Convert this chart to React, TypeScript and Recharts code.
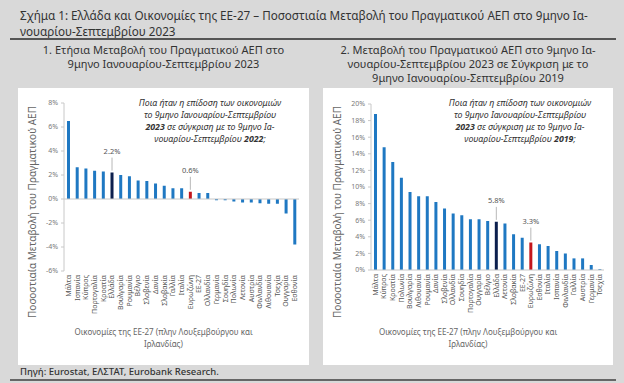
import React from 'react';
import { BarChart, Bar, XAxis, YAxis, Cell, ReferenceLine, LabelList } from 'recharts';

// Διάγραμμα 1: ετήσια μεταβολή 9μηνου 2023 vs 2022
const leftCountries = [
  'Μάλτα', 'Ισπανία', 'Κύπρος', 'Πορτογαλία', 'Κροατία', 'Ελλάδα', 'Βουλγαρία', 'Ρουμανία',
  'Βέλγιο', 'Σλοβενία', 'Δανία', 'Σλοβακία', 'Γαλλία', 'Ιταλία', 'Ευρωζώνη', 'ΕΕ-27',
  'Ολλανδία', 'Γερμανία', 'Σουηδία', 'Πολωνία', 'Λετονία', 'Αυστρία', 'Φινλανδία',
  'Λιθουανία', 'Τσεχία', 'Ουγγαρία', 'Εσθονία',
];
const leftValues = [
  6.5, 2.65, 2.55, 2.35, 2.3, 2.2, 2.0, 1.9, 1.55, 1.5, 1.3, 1.1, 0.9, 0.9, 0.6, 0.5, 0.5,
  -0.1, -0.1, -0.2, -0.3, -0.3, -0.35, -0.4, -0.4, -1.2, -3.8,
];
const leftTicks = [-6, -4, -2, 0, 2, 4, 6, 8];

// Διάγραμμα 2: μεταβολή 9μηνου 2023 vs 2019
const rightCountries = [
  'Μάλτα', 'Κύπρος', 'Κροατία', 'Πολωνία', 'Βουλγαρία', 'Λιθουανία', 'Ρουμανία', 'Δανία',
  'Σλοβενία', 'Ολλανδία', 'Σουηδία', 'Πορτογαλία', 'Ουγγαρία', 'Βέλγιο', 'Ελλάδα', 'Λετονία',
  'Σλοβακία', 'ΕΕ-27', 'Ευρωζώνη', 'Εσθονία', 'Ιταλία', 'Ισπανία', 'Φινλανδία', 'Γαλλία',
  'Αυστρία', 'Γερμανία', 'Τσεχία',
];
const rightValues = [
  18.8, 14.8, 13.0, 11.1, 9.4, 8.9, 8.9, 8.2, 7.4, 6.8, 6.6, 6.1, 6.1, 5.9, 5.8, 5.6, 4.3,
  3.9, 3.3, 3.1, 2.9, 2.3, 2.0, 1.4, 1.4, 0.6, 0.1,
];
const rightTicks = [0, 2, 4, 6, 8, 10, 12, 14, 16, 18, 20];

const highlighted = ['Ελλάδα', 'Ευρωζώνη'];

const FONT = '"Noto Sans", "DejaVu Sans", sans-serif';
const BLUE = '#1f78c2';
const NAVY = '#0c1f4d';
const RED = '#c4161c';
const AXIS_TITLE = 'Ποσοστιαία Μεταβολή του Πραγματικού ΑΕΠ';

const barColor = (name: string) =>
  name === 'Ελλάδα' ? NAVY : name === 'Ευρωζώνη' ? RED : BLUE;

const CategoryTick = (props: any) => {
  const { x, y, payload } = props;
  return (
    <text
      x={x}
      y={y}
      transform={`rotate(-90 ${x} ${y})`}
      textAnchor="end"
      dy={2.5}
      fontSize={7}
      fill="#555"
      fontFamily={FONT}
    >
      {payload.value}
    </text>
  );
};

// ετικέτα τιμής με γραμμή οδηγό, μόνο για Ελλάδα και Ευρωζώνη
const makeValueLabel = (names: string[]) => (props: any) => {
  const { x, y, width, value, index } = props;
  if (!highlighted.includes(names[index])) return null;
  const cx = x + width / 2;
  return (
    <g>
      <line x1={cx} x2={cx} y1={y - 2} y2={y - 15} stroke="#9a9a9a" strokeWidth={0.7} />
      <text x={cx} y={y - 19} textAnchor="middle" fontSize={7.5} fill="#555" fontFamily={FONT}>
        {`${value.toFixed(1)}%`}
      </text>
    </g>
  );
};

const yTick = { fontSize: 7, fill: '#7a7a7a', fontFamily: FONT };

const Panel: React.FC<{
  left: number;
  width: number;
  names: string[];
  values: number[];
  ticks: number[];
  domain: [number, number];
  yWidth: number;
  top: number;
  xHeight: number;
  rightMargin: number;
  negative: boolean;
}> = ({ left, width, names, values, ticks, domain, yWidth, top, xHeight, rightMargin, negative }) => {
  const data = names.map((name, i) => ({ name, value: values[i] }));
  return (
    <div
      style={{
        position: 'absolute',
        left,
        top: 88,
        width,
        height: 277,
        background: '#fff',
      }}
    >
      <BarChart
        width={width}
        height={277}
        data={data}
        margin={{ top, right: rightMargin, bottom: 0, left: 0 }}
        barCategoryGap={0}
      >
        <XAxis
          dataKey="name"
          interval={0}
          tick={<CategoryTick />}
          tickLine={false}
          axisLine={negative ? false : { stroke: '#c8c8c8' }}
          tickSize={4}
          tickMargin={0}
          height={xHeight}
        />
        <YAxis
          width={yWidth}
          domain={domain}
          ticks={ticks}
          interval={0}
          tick={yTick}
          tickFormatter={(v: number) => `${v}%`}
          tickSize={3}
          tickMargin={3}
          tickLine={{ stroke: '#c8c8c8' }}
          axisLine={{ stroke: '#c8c8c8' }}
          allowDataOverflow
        />
        {negative && <ReferenceLine y={0} stroke="#c8c8c8" />}
        <Bar dataKey="value" barSize={3} isAnimationActive={false}>
          {data.map((d) => (
            <Cell key={d.name} fill={barColor(d.name)} />
          ))}
          <LabelList dataKey="value" content={makeValueLabel(names)} />
        </Bar>
        <text
          x={18}
          y={124}
          transform="rotate(-90 18 124)"
          textAnchor="middle"
          fontSize={10}
          fill="#666"
          fontFamily={FONT}
        >
          {AXIS_TITLE}
        </text>
      </BarChart>
      <div
        style={{
          position: 'absolute',
          left: 0,
          width,
          top: 238,
          textAlign: 'center',
          fontSize: 8,
          lineHeight: '12px',
          color: '#666',
        }}
      >
        Οικονομίες της ΕΕ-27 (πλην Λουξεμβούργου και
        <br />
        Ιρλανδίας)
      </div>
    </div>
  );
};

const Note: React.FC<{ cx: number; year: string }> = ({ cx, year }) => (
  <div
    style={{
      position: 'absolute',
      left: cx - 100,
      width: 200,
      top: 97,
      textAlign: 'center',
      fontStyle: 'italic',
      fontSize: 8.8,
      lineHeight: '12px',
      color: '#333',
    }}
  >
    Ποια ήταν η επίδοση των οικονομιών
    <br />
    το 9μηνο Ιανουαρίου-Σεπτεμβρίου
    <br />
    <b>2023</b> σε σύγκριση με το 9μηνο Ια-
    <br />
    νουαρίου-Σεπτεμβρίου <b>{year}</b>;
  </div>
);

export default function App() {
  return (
    <div
      style={{
        position: 'absolute',
        left: 0,
        top: 0,
        width: 624,
        height: 383,
        overflow: 'hidden',
        background: '#d9d9d9',
        fontFamily: FONT,
        color: '#333',
      }}
    >
      <div style={{ position: 'absolute', left: 20, top: 7, fontSize: 11.7, lineHeight: '16px' }}>
        Σχήμα 1: Ελλάδα και Οικονομίες της ΕΕ-27 – Ποσοστιαία Μεταβολή του Πραγματικού ΑΕΠ στο 9μηνο Ια-
        <br />
        νουαρίου-Σεπτεμβρίου 2023
      </div>
      <div style={{ position: 'absolute', left: 10, top: 38, width: 606, height: 1.5, background: '#555' }} />

      <div
        style={{
          position: 'absolute',
          left: 18,
          width: 291,
          top: 43,
          textAlign: 'center',
          fontSize: 11,
          lineHeight: '14px',
        }}
      >
        1. Ετήσια Μεταβολή του Πραγματικού ΑΕΠ στο
        <br />
        9μηνο Ιανουαρίου-Σεπτεμβρίου 2023
      </div>
      <div
        style={{
          position: 'absolute',
          left: 323,
          width: 290,
          top: 43,
          textAlign: 'center',
          fontSize: 11,
          lineHeight: '14px',
        }}
      >
        2. Μεταβολή του Πραγματικού ΑΕΠ στο 9μηνο Ια-
        <br />
        νουαρίου-Σεπτεμβρίου 2023 σε Σύγκριση με το
        <br />
        9μηνο Ιανουαρίου-Σεπτεμβρίου 2019
      </div>

      <Panel
        left={18}
        width={291}
        names={leftCountries}
        values={leftValues}
        ticks={leftTicks}
        domain={[-6, 8]}
        yWidth={46}
        top={15}
        xHeight={94}
        rightMargin={10}
        negative
      />
      <Panel
        left={323}
        width={290}
        names={rightCountries}
        values={rightValues}
        ticks={rightTicks}
        domain={[0, 20]}
        yWidth={48}
        top={16}
        xHeight={95}
        rightMargin={9}
        negative={false}
      />

      <Note cx={210} year="2022" />
      <Note cx={520} year="2019" />

      <div style={{ position: 'absolute', left: 20, top: 365, fontSize: 9.5, fontWeight: 500, color: '#333' }}>
        Πηγή: Eurostat, ΕΛΣΤΑΤ, Eurobank Research.
      </div>
      <div style={{ position: 'absolute', left: 10, top: 379, width: 606, height: 2, background: '#666' }} />
    </div>
  );
}
